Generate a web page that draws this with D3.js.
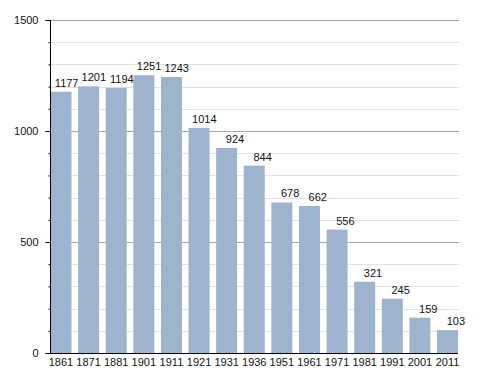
<!DOCTYPE html>
<html>
<head>
<meta charset="utf-8">
<script src="https://cdn.jsdelivr.net/npm/d3@7"></script>
<style>
  html, body { margin: 0; padding: 0; background: #fff; }
  svg { display: block; }
  text { font-family: "Liberation Sans", Arial, sans-serif; font-size: 11px; fill: #111; }
</style>
</head>
<body>
<svg id="chart" width="488" height="373"></svg>
<script>
const years = ["1861","1871","1881","1901","1911","1921","1931","1936","1951","1961","1971","1981","1991","2001","2011"];
const population = [1177,1201,1194,1251,1243,1014,924,844,678,662,556,321,245,159,103];
const majorTicks = [0, 500, 1000, 1500];
const minorTicks = [100,200,300,400,600,700,800,900,1100,1200,1300,1400];

(function () {
const svg = d3.select("#chart");
const plotLeft = 50, plotRight = 459, plotTop = 20, plotBottom = 353;

const y = d3.scaleLinear().domain([0, 1500]).range([plotBottom, plotTop]);
const x = d3.scaleBand().domain(years).range([50.5, 458]).paddingInner(0.24).paddingOuter(0);

// minor gridlines
svg.append("g").selectAll("line").data(minorTicks).join("line")
  .attr("x1", plotLeft).attr("x2", plotRight)
  .attr("y1", d => Math.round(y(d)) + 0.5).attr("y2", d => Math.round(y(d)) + 0.5)
  .attr("stroke", "#e2e2e2").attr("stroke-width", 1);

// major gridlines
svg.append("g").selectAll("line").data(majorTicks.filter(d => d > 0)).join("line")
  .attr("x1", plotLeft).attr("x2", plotRight)
  .attr("y1", d => Math.round(y(d)) + 0.5).attr("y2", d => Math.round(y(d)) + 0.5)
  .attr("stroke", "#a8a8a8").attr("stroke-width", 1);

// bars
svg.append("g").selectAll("rect").data(population).join("rect")
  .attr("x", (d, i) => x(years[i]))
  .attr("width", x.bandwidth())
  .attr("y", d => y(d))
  .attr("height", d => plotBottom - y(d))
  .attr("fill", "#9eb3ce");

// value labels
svg.append("g").selectAll("text").data(population).join("text")
  .attr("x", (d, i) => x(years[i]) + x.bandwidth() / 2 + 17.5)
  .attr("y", d => y(d) - 5)
  .attr("text-anchor", "end")
  .text(d => d);

// y axis
const yAxisMinor = d3.axisLeft(y).tickValues(minorTicks).tickSize(2).tickFormat("");
const yAxisMajor = d3.axisLeft(y).tickValues(majorTicks).tickSize(5).tickPadding(8).tickFormat(d3.format("d"));
const gMinor = svg.append("g").attr("transform", `translate(${plotLeft + 0.5},0)`).call(yAxisMinor);
const gMajor = svg.append("g").attr("transform", `translate(${plotLeft + 0.5},0)`).call(yAxisMajor);
[gMinor, gMajor].forEach(g => {
  g.attr("font-family", null).attr("font-size", null);
  g.select(".domain").attr("stroke", "#000").attr("d", `M0,${plotTop}V${plotBottom}`);
  g.selectAll(".tick line").attr("stroke", "#000");
});
gMajor.selectAll(".tick text").attr("fill", "#111").attr("x", -12);

// x axis
const xAxis = d3.axisBottom(x).tickSize(0).tickPadding(5);
const gx = svg.append("g").attr("transform", `translate(0,${plotBottom + 0.5})`).call(xAxis);
gx.attr("font-family", null).attr("font-size", null);
gx.select(".domain").attr("stroke", "#000").attr("d", `M${plotLeft},0H${plotRight - 1}`);
gx.selectAll(".tick text").attr("fill", "#111");
})();
</script>
</body>
</html>
